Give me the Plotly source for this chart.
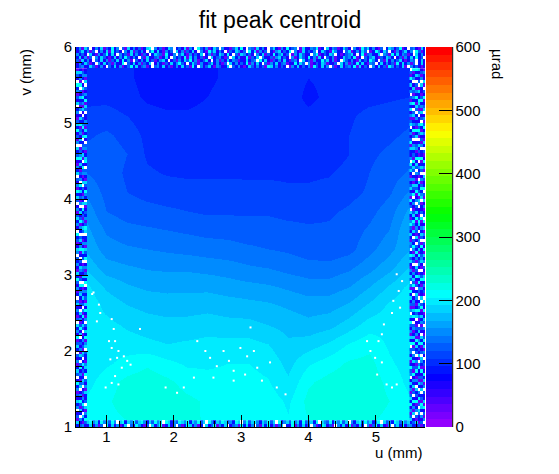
import colorsys

import plotly.graph_objects as go


# --- interior map (u, v in mm, value in urad) ---
U = [0.7, 1.0, 1.3, 1.6, 1.9, 2.2, 2.5, 2.8, 3.1, 3.4, 3.7, 4.0, 4.3, 4.6, 4.9, 5.2, 5.5]
V = [1.1, 1.35, 1.6, 1.85, 2.1, 2.35, 2.6, 2.85, 3.1, 3.35, 3.6, 3.85, 4.1, 4.35, 4.6, 4.85, 5.1, 5.35, 5.6]
Z = [
    [205, 212, 216, 220, 220, 218, 215, 214, 213, 212, 205, 216, 220, 220, 218, 212, 205],
    [205, 214, 222, 225, 224, 219, 214, 212, 212, 210, 202, 220, 224, 225, 224, 216, 205],
    [200, 210, 220, 223, 219, 211, 208, 208, 208, 205, 194, 214, 221, 225, 224, 212, 200],
    [196, 202, 208, 214, 207, 202, 202, 204, 204, 200, 188, 202, 210, 218, 220, 206, 198],
    [192, 200, 198, 195, 192, 194, 196, 196, 196, 192, 182, 186, 194, 205, 212, 202, 196],
    [196, 196, 190, 186, 184, 184, 186, 184, 184, 180, 176, 172, 176, 186, 198, 200, 200],
    [202, 188, 180, 176, 174, 175, 176, 174, 172, 170, 166, 162, 163, 170, 182, 194, 202],
    [196, 178, 170, 166, 165, 165, 165, 162, 160, 158, 154, 150, 150, 156, 168, 182, 196],
    [178, 162, 158, 155, 154, 154, 152, 150, 146, 144, 140, 137, 137, 142, 152, 164, 182],
    [166, 150, 146, 144, 142, 140, 138, 136, 134, 132, 130, 126, 124, 128, 140, 152, 168],
    [160, 142, 136, 134, 132, 130, 128, 128, 126, 126, 124, 122, 122, 126, 134, 144, 170],
    [152, 132, 126, 124, 122, 120, 118, 118, 118, 118, 116, 116, 118, 122, 128, 138, 160],
    [142, 128, 120, 116, 114, 113, 113, 113, 112, 112, 110, 110, 112, 116, 122, 130, 146],
    [132, 126, 118, 110, 107, 106, 106, 106, 106, 106, 106, 106, 107, 112, 120, 126, 134],
    [124, 126, 120, 106, 102, 100, 101, 101, 101, 101, 101, 100, 102, 108, 118, 122, 128],
    [118, 122, 116, 104, 100, 100, 100, 100, 100, 100, 100, 100, 102, 108, 116, 118, 122],
    [112, 114, 108, 100, 98, 98, 100, 100, 100, 100, 100, 98, 100, 106, 112, 114, 118],
    [104, 104, 100, 94, 92, 92, 96, 100, 100, 100, 100, 94, 98, 102, 104, 106, 108],
    [102, 102, 98, 92, 92, 92, 94, 98, 100, 100, 100, 96, 98, 100, 102, 104, 104],
]

# --- noisy border bins; each digit is a level, '0' is an empty (white) bin ---
NOISE_LEVELS = {'0': None, '1': 30, '2': 60, '3': 95, '4': 125, '5': 155, '6': 185, '7': 210}

TOP_ROWS = [  # v = 5.74 .. 5.98, u from 0.57
    "34523641352043625134736245130453624135263417305246315423604352136425341763524301536243517426350413624537162430526341752436105342136425",
    "25364130526341532704362514360253142635742036415324625314063524371526304153624513273640512436513240635142736215403625341726351403624351",
    "41635204362514362735104253624135630241536472513462035142635413263450736214352631452063415237462513064352163427530416253462135403625143",
    "36251405364213625374253041632451362053427163524130624531406352271436053241563420513642735162043513264537120435621436530241536273405132",
    "53420631524736205341625314203654173250463152436025143652730416534205361427356240153642305712436503124562037145326054173625413063524163",
    "24635140352617342053614352047263153406251436205317462530143652407361524031562437052163435026431753204613526401375264031524635074136245",
    "35164025361437250416352413670524136503426153074251364052314637205416352046315273450163254713062541364205317463521403652471304521634052",
]
LEFT_COLS = [  # u = 0.57 .. 0.69, v from 1.02 upward
    "361420536241537204631524036417253604135264031524736125340562143702536415204637152406351274360514273641253062415370246153",
    "425036147352064135274036152430627415360241365270413562403175264035174263051426370524136275410362541736205143624071536240",
    "513602473514205631427305614253104632715042635170362451043672513046251437062513406215473016254306127534026153741620354136",
    "247351604236152407365123406517362405137261435207364152073461523067415342160357246135402763154027361452304617352406153247",
]
RIGHT_COLS = [  # u = 5.52 .. 5.72, v from 1.02 upward
    "536415273641536205473162540736152473605142637150463512647304513624751360427153642513647052361742530641527361405263714025",
    "342061527304163527142635041726315402736145203174625130426157340261573641253072461530462714365204172531640273514620531742",
    "261405317243602513741520436271534120647312563041273460152734026145317263405217463125046273154206371425304613725140263715",
    "413256041725036142375016243751264031527463014527361025437162451302674132056174326014352071426301574623051467236104352617",
    "142503671430625142713560421736024153621740623512743012654327104635217042310653741520463172305142613704261537412360514273",
    "305142716324051637214302516374125046317236014253761240536172403516270431526140732460153721403612537415206431724016235174",
]
BOTTOM_ROWS = [  # v = 1.0225, 1.0675, u from 0.73
    "36251407362513604275314062571362504137625130624715360245173625041637251460327153624051376241053627142630514736215046372513625",
    "67563756475067365746753647560763547657365746075365764537605746753657460735647563745637065473657460536747563570645376475637564",
]

# --- empty bins inside the map (u, v) ---
SPECK_U = [0.81, 0.79, 0.89, 0.91, 0.86, 1.08, 1.11, 1.04, 1.08, 1.13, 1.18, 1.16, 1.06, 1.26, 1.31,
           1.23, 1.36, 1.13, 1.08, 1.18, 0.99, 1.50,
           1.88, 2.05, 2.15, 2.35, 2.47, 2.54, 2.64, 2.74, 2.82, 2.89, 2.99, 3.09, 3.19, 3.06, 3.24,
           3.31, 3.43, 3.53, 3.66, 2.30, 2.59, 2.89, 3.14,
           5.31, 5.39, 5.34, 5.26, 5.36, 5.24, 5.12, 5.09, 5.04, 4.92, 4.99, 5.09, 5.02, 5.16, 5.24,
           4.87, 5.31]
SPECK_V = [2.77, 2.75, 2.61, 2.50, 2.39, 2.42, 2.29, 2.13, 2.04, 2.13, 2.00, 1.91, 1.89, 1.93, 1.87,
           1.78, 1.82, 1.67, 1.58, 1.56, 1.52, 2.29,
           1.52, 1.45, 1.52, 2.13, 2.00, 1.91, 1.80, 2.00, 1.87, 1.74, 2.04, 1.93, 2.00, 1.69, 1.78,
           1.61, 1.85, 1.52, 1.43, 1.65, 1.65, 1.61, 2.31,
           3.01, 2.92, 2.79, 2.66, 2.57, 2.50, 2.35, 2.22, 2.13, 2.00, 1.91, 1.85, 1.69, 1.56, 1.52,
           2.13, 1.56]

Z_TICKS = [0, 100, 200, 300, 400, 500, 600]


def pretty_palette(n=50):
    # old ROOT "pretty" palette: hue 280 -> 0 at full saturation, last bin red
    scale = []
    for i in range(n):
        if i < n - 1:
            hue = 280 - (i + 1) * (280.0 / n)
            r, g, b = colorsys.hls_to_rgb(hue / 360.0, 0.5, 1.0)
            col = f"rgb({round(r * 255)},{round(g * 255)},{round(b * 255)})"
        else:
            col = "rgb(255,0,0)"
        scale.append([i / n, col])
        scale.append([(i + 1) / n, col])
    return scale


def rows_to_z(rows, n):
    return [[NOISE_LEVELS[c] for c in row[:n]] for row in rows]


def cols_to_z(cols, n):
    return [[NOISE_LEVELS[col[r]] for col in cols] for r in range(n)]


FONT = "Liberation Sans, Arial, Helvetica, sans-serif"

fig = go.Figure()

fig.add_trace(go.Heatmap(x=U, y=V, z=Z, coloraxis="coloraxis", zsmooth="best", hoverinfo="skip"))

# white underlay for the noisy frame so empty bins show white
fig.add_trace(go.Heatmap(
    x=[0.55, 0.71, 5.50, 5.76], y=[1.0, 1.09, 5.72, 6.0],
    z=[[1, 1, 1], [1, None, 1], [1, 1, 1]],
    colorscale=[[0, "white"], [1, "white"]], showscale=False, zsmooth=False, hoverinfo="skip"))

fig.add_trace(go.Heatmap(z=rows_to_z(TOP_ROWS, 130), x0=0.57, dx=0.04, y0=5.74, dy=0.04,
                         coloraxis="coloraxis", zsmooth=False, hoverinfo="skip"))
fig.add_trace(go.Heatmap(z=cols_to_z(LEFT_COLS, 118), x0=0.57, dx=0.04, y0=1.02, dy=0.04,
                         coloraxis="coloraxis", zsmooth=False, hoverinfo="skip"))
fig.add_trace(go.Heatmap(z=cols_to_z(RIGHT_COLS, 118), x0=5.52, dx=0.04, y0=1.02, dy=0.04,
                         coloraxis="coloraxis", zsmooth=False, hoverinfo="skip"))
fig.add_trace(go.Heatmap(z=rows_to_z(BOTTOM_ROWS, 120), x0=0.73, dx=0.04, y0=1.0225, dy=0.045,
                         coloraxis="coloraxis", zsmooth=False, hoverinfo="skip"))

fig.add_trace(go.Scatter(x=SPECK_U, y=SPECK_V, mode="markers",
                         marker=dict(symbol="square", size=2, color="white", line_width=0),
                         hoverinfo="skip", showlegend=False))

axis_style = dict(
    showgrid=False, zeroline=False, showline=True, linecolor="black", linewidth=1, mirror=False,
    ticks="inside", ticklen=12, tickcolor="black", tickwidth=1,
    minor=dict(ticks="inside", ticklen=6, dtick=0.2, tickcolor="black", showgrid=False),
    tickfont=dict(family=FONT, size=15, color="black"),
)

# the page body adds an 8px offset, so the margins are shifted up/left by it
fig.update_layout(
    width=559, height=474,
    margin=dict(l=68, r=142, t=39, b=55),
    paper_bgcolor="white", plot_bgcolor="white",
    showlegend=False,
    title=dict(text="fit peak centroid", x=272 / 559, xref="container", xanchor="center",
               y=1 - 12 / 474, yref="container", yanchor="middle",
               font=dict(family=FONT, size=23, color="black")),
    xaxis=dict(range=[0.55, 5.73], tickvals=[1, 2, 3, 4, 5], ticklabelstandoff=-4, **axis_style),
    yaxis=dict(range=[1, 6], tickvals=[1, 2, 3, 4, 5, 6], **axis_style),
    coloraxis=dict(
        cmin=0, cmax=600, colorscale=pretty_palette(),
        colorbar=dict(
            x=1.003, xanchor="left", xpad=0, y=0.5, yanchor="middle", ypad=0,
            len=1, lenmode="fraction", thickness=26, thicknessmode="pixels",
            outlinewidth=0, tickvals=Z_TICKS, ticks="inside", ticklen=13,
            tickcolor="black", tickwidth=1,
            tickfont=dict(family=FONT, size=15, color="black"),
        ),
    ),
    annotations=[
        dict(text="u (mm)", xref="paper", yref="paper", x=1.0, y=-0.068,
             xanchor="right", yanchor="middle", showarrow=False,
             font=dict(family=FONT, size=15, color="black")),
        dict(text="v (mm)", xref="paper", yref="paper", x=-0.146, y=1.0,
             xanchor="center", yanchor="top", textangle=-90, showarrow=False,
             font=dict(family=FONT, size=15, color="black")),
        dict(text="µrad", xref="paper", yref="paper", x=1.209, y=1.0,
             xanchor="center", yanchor="top", textangle=90, showarrow=False,
             font=dict(family=FONT, size=15, color="black")),
    ],
    shapes=[
        dict(type="line", xref="paper", yref="paper", x0=1.0793, x1=1.0793, y0=0, y1=1,
             line=dict(color="black", width=1)),
    ],
)

fig.write_html("out.html")
